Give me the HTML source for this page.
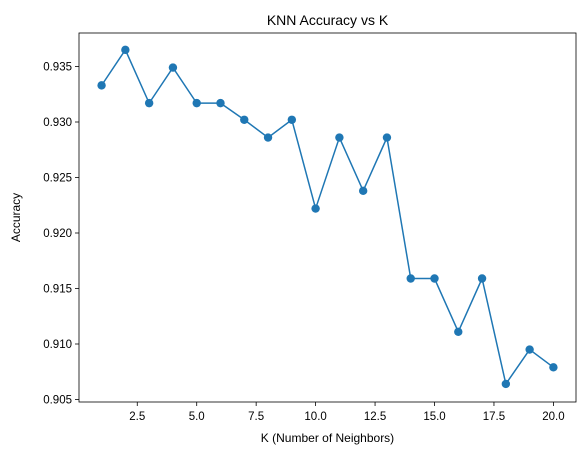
<!DOCTYPE html>
<html><head><meta charset="utf-8"><style>
body{margin:0;background:#fff}
svg text{font-family:"Liberation Sans","DejaVu Sans",sans-serif;fill:#000}
</style></head><body>
<svg id="chart" width="584" height="455" viewBox="0 0 584 455" xmlns="http://www.w3.org/2000/svg">
<rect width="584" height="455" fill="#fff"/>
<g id="plot"></g>
</svg>
<script>
const ks=[1,2,3,4,5,6,7,8,9,10,11,12,13,14,15,16,17,18,19,20];
const accuracy=[0.9333,0.9365,0.9317,0.9349,0.9317,0.9317,0.9302,0.9286,0.9302,0.9222,0.9286,0.9238,0.9286,0.9159,0.9159,0.9111,0.9159,0.9064,0.9095,0.9079];
const xTicks=[2.5,5.0,7.5,10.0,12.5,15.0,17.5,20.0];
const yTicks=[0.905,0.910,0.915,0.920,0.925,0.930,0.935];
const L=79,R=576,T=33,B=402;
const xmin=0.05,xmax=20.95;
const sx=v=>L+(v-xmin)/(xmax-xmin)*(R-L);
const sy=v=>122+(0.930-v)/0.005*55.5;
const NS="http://www.w3.org/2000/svg";
const g=document.getElementById('plot');
function mk(t,a){const e=document.createElementNS(NS,t);for(const k in a)e.setAttribute(k,a[k]);g.appendChild(e);return e;}
xTicks.forEach(v=>{
 const l=mk('line',{x1:sx(v),x2:sx(v),y1:B,y2:B+4,stroke:'#000','stroke-width':0.8});
 
 
 const t=mk('text',{x:sx(v),y:B+18,'text-anchor':'middle','font-size':11.5});
 t.textContent=v.toFixed(1);
 
 
});
yTicks.forEach(v=>{
 const l=mk('line',{x1:L-4,x2:L,y1:sy(v),y2:sy(v),stroke:'#000','stroke-width':0.8});
 
 
 const t=mk('text',{x:L-7,y:sy(v)+4,'text-anchor':'end','font-size':11.5});
 t.textContent=v.toFixed(3);
 
 
});
const line=mk('polyline',{points:ks.map((k,i)=>sx(k)+','+sy(accuracy[i])).join(' '),fill:'none',stroke:'#1f77b4','stroke-width':1.5});


ks.forEach((k,i)=>{
 const c=mk('circle',{cx:sx(k),cy:sy(accuracy[i]),r:4.2,fill:'#1f77b4'});
 
 
});
const box=mk('rect',{x:L,y:T,width:R-L,height:B-T,fill:'none',stroke:'#000','stroke-width':0.8});


const title=mk('text',{x:(L+R)/2,y:T-8,'text-anchor':'middle','font-size':14});
title.textContent='KNN Accuracy vs K';


const xl=mk('text',{x:(L+R)/2,y:442,'text-anchor':'middle','font-size':12});
xl.textContent='K (Number of Neighbors)';


const yl=mk('text',{x:0,y:0,'text-anchor':'middle','font-size':12,transform:'translate(20,'+((T+B)/2)+') rotate(-90)'});
yl.textContent='Accuracy';


</script>
</body></html>
